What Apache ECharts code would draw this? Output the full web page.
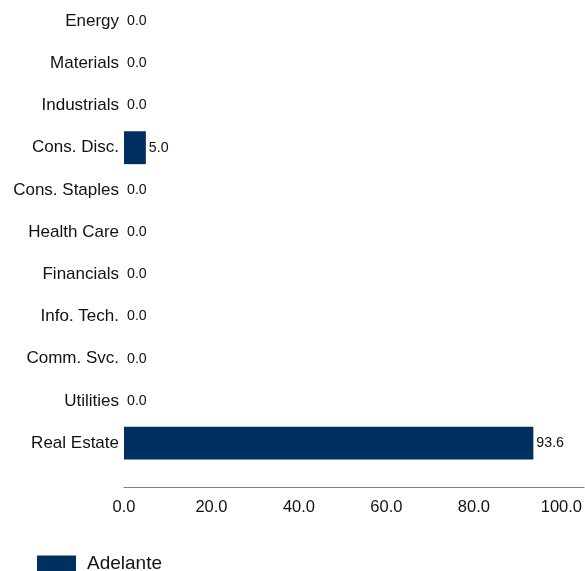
<!DOCTYPE html>
<html>
<head>
<meta charset="utf-8">
<script src="https://cdn.jsdelivr.net/npm/echarts@6/dist/echarts.min.js"></script>
<style>html,body{margin:0;padding:0;background:#fff}#c{width:585px;height:571px}</style>
</head>
<body>
<div id="c"></div>
<script>
const categories = ["Energy","Materials","Industrials","Cons. Disc.","Cons. Staples","Health Care","Financials","Info. Tech.","Comm. Svc.","Utilities","Real Estate"];
const seriesName = "Adelante";
const values = [0.0,0.0,0.0,5.0,0.0,0.0,0.0,0.0,0.0,0.0,93.6];
const xTicks = [0,20,40,60,80,100];

const chart = echarts.init(document.getElementById('c'), null, {renderer:'canvas'});
chart.setOption({
  animation:false,
  backgroundColor:'#fff',
  textStyle:{fontFamily:'"Liberation Sans", Arial, sans-serif'},
  grid:{left:124,right:0,top:-2.2,bottom:106.8,containLabel:false},
  legend:{
    data:[seriesName],left:32,top:549,itemWidth:39,itemHeight:16,itemGap:10,
    icon:'rect',
    textStyle:{fontSize:19,color:'#111',padding:[0,0,6,6],fontFamily:'"Liberation Sans", Arial, sans-serif'}
  },
  xAxis:{
    type:'value',min:0,max:105.2,interval:20,offset:23,
    axisLine:{show:true,lineStyle:{color:'#808080',width:1}},
    axisTick:{show:false},splitLine:{show:false},
    axisLabel:{showMaxLabel:false,margin:12,fontSize:16.5,color:'#111',
      formatter:v=>xTicks.indexOf(v)>=0?v.toFixed(1):''}
  },
  yAxis:{
    type:'category',data:categories,inverse:true,
    axisLine:{show:false},axisTick:{show:false},splitLine:{show:false},
    axisLabel:{margin:5,fontSize:17,color:'#111'}
  },
  series:[{
    name:seriesName,type:'bar',data:values,barCategoryGap:'22%',
    itemStyle:{color:'#003060'},
    label:{show:true,position:'right',distance:3,fontSize:14.2,color:'#111',
      formatter:p=>p.value.toFixed(1)}
  }]
});
</script>
</body>
</html>
